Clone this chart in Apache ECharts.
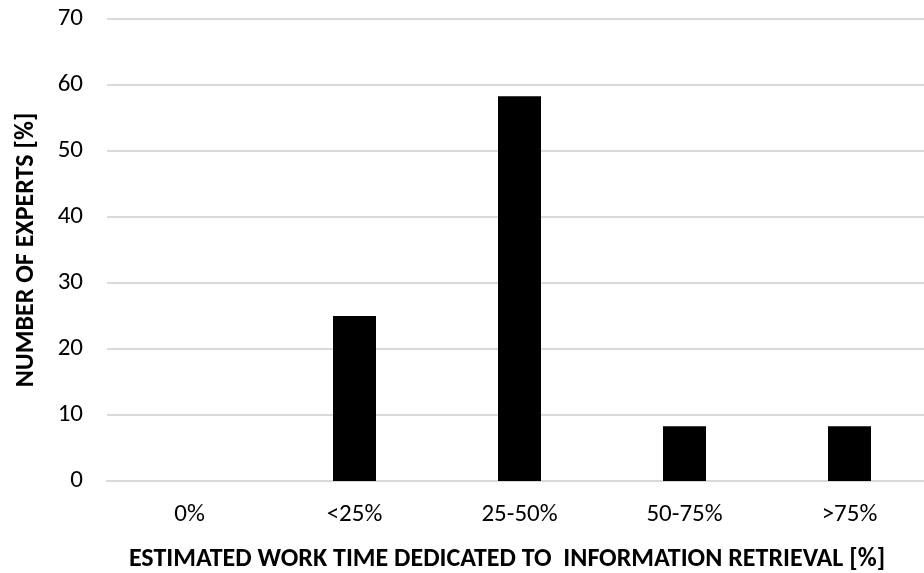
<!DOCTYPE html>
<html>
<head>
<meta charset="utf-8">
<script src="https://cdn.jsdelivr.net/npm/echarts@6/dist/echarts.min.js"></script>
<style>
  html, body { margin: 0; padding: 0; background: #fff; }
  #chart { width: 924px; height: 573px; }
</style>
</head>
<body>
<div id="chart"></div>
<script>
// Share of experts per band of work time spent on information retrieval
const categories = ['0%', '<25%', '25-50%', '50-75%', '>75%'];
const expertShare = [0, 25, 58.3, 8.3, 8.3];
const yTicks = { min: 0, max: 70, interval: 10 };

const font = 'Carlito, Lato, "Liberation Sans", sans-serif';
const chart = echarts.init(document.getElementById('chart'), null, { renderer: 'canvas' });

chart.setOption({
  animation: false,
  backgroundColor: '#ffffff',
  // the plot runs slightly past the right edge of the canvas
  grid: { left: 107, top: 19, width: 825, height: 462, containLabel: false, outerBoundsMode: 'none' },
  xAxis: {
    type: 'category',
    data: categories,
    axisLine: { show: true, lineStyle: { color: '#d9d9d9', width: 2 } },
    axisTick: { show: false },
    axisLabel: { color: '#000', fontFamily: font, fontSize: 25, margin: 21 },
    name: 'ESTIMATED WORK TIME DEDICATED TO  INFORMATION RETRIEVAL [%]',
    nameLocation: 'middle',
    nameGap: 65,
    nameTextStyle: { color: '#000', fontFamily: font, fontSize: 26, fontWeight: 'bold', padding: [0, 25, 0, 0] }
  },
  yAxis: {
    type: 'value',
    min: yTicks.min,
    max: yTicks.max,
    interval: yTicks.interval,
    axisLine: { show: false },
    axisTick: { show: false },
    splitLine: { show: true, lineStyle: { color: '#d9d9d9', width: 2 } },
    axisLabel: { color: '#000', fontFamily: font, fontSize: 25, margin: 24 },
    name: 'NUMBER OF EXPERTS [%]',
    nameLocation: 'middle',
    nameGap: 68,
    nameRotate: 90,
    nameTextStyle: { color: '#000', fontFamily: font, fontSize: 26, fontWeight: 'bold' }
  },
  series: [{
    type: 'bar',
    data: expertShare,
    barWidth: 43,
    itemStyle: { color: '#000000' }
  }]
});
</script>
</body>
</html>
